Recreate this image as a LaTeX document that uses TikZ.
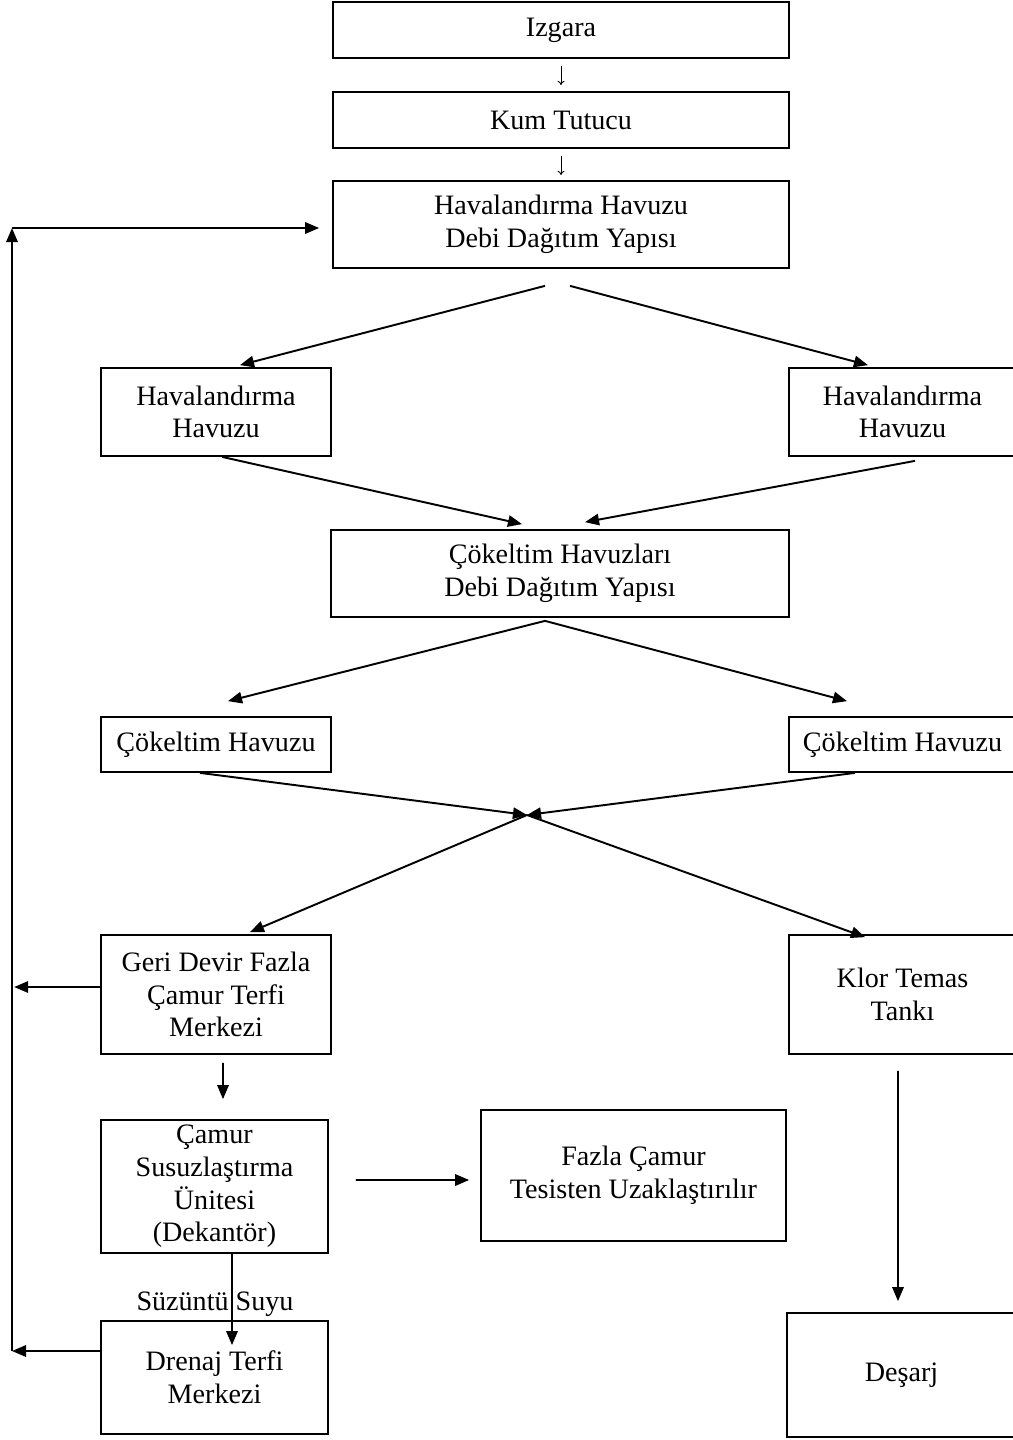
\documentclass[tikz,border=0pt]{standalone}
\usepackage{fontspec, tikz, xcolor}
\setmainfont{Liberation Serif}
\usetikzlibrary{arrows.meta, calc}

\begin{document}
\begin{tikzpicture}[x=0.02cm, y=-0.02cm,
    every node/.style={font=\fontsize{16}{18.6}\selectfont},
    box/.style={draw, line width=1pt, align=center, inner sep=0pt},
    arr/.style={-{Triangle[length=8pt, width=6.5pt]}, line width=1.1pt},
    smallarr/.style={-{To[length=2.5pt, width=4pt]}, line width=0.5pt}]
    \useasboundingbox (0,0) rectangle (1013,1440);
    \node [box, minimum width=9.12cm, minimum height=1.12cm] (izgara) at (561,30) {Izgara};
    \node [box, minimum width=9.12cm, minimum height=1.12cm] (kum) at (561,120) {Kum Tutucu};
    \node [box, minimum width=9.12cm, minimum height=1.74cm] (hhdebi) at (561,224.5) {Havalandırma Havuzu\\Debi Dağıtım Yapısı};
    \node [box, minimum width=4.6cm, minimum height=1.76cm] (hhleft) at (216,412) {Havalandırma\\Havuzu};
    \node [box, minimum width=4.54cm, minimum height=1.76cm] (hhright) at (902.5,412) {Havalandırma\\Havuzu};
    \node [box, minimum width=9.16cm, minimum height=1.74cm] (cdebi) at (560,573.5) {Çökeltim Havuzları\\Debi Dağıtım Yapısı};
    \node [box, minimum width=4.6cm, minimum height=1.1cm] (cleft) at (216,744.5) {Çökeltim Havuzu};
    \node [box, minimum width=4.54cm, minimum height=1.1cm] (cright) at (902.5,744.5) {Çökeltim Havuzu};
    \node [box, minimum width=4.6cm, minimum height=2.38cm] (geri) at (216,994.5) {Geri Devir Fazla\\Çamur Terfi\\Merkezi};
    \node [box, minimum width=4.54cm, minimum height=2.38cm] (klor) at (902.5,994.5) {Klor Temas\\Tankı};
    \node [box, minimum width=4.54cm, minimum height=2.66cm] (camur) at (214.5,1186.5) {Çamur\\Susuzlaştırma\\Ünitesi\\(Dekantör)};
    \node [box, minimum width=6.1cm, minimum height=2.62cm] (fazla) at (633.5,1175.5) {Fazla Çamur\\Tesisten Uzaklaştırılır};
    \node [box, minimum width=4.54cm, minimum height=2.26cm] (drenaj) at (214.5,1377.5) {Drenaj Terfi\\Merkezi};
    \node [box, minimum width=4.58cm, minimum height=2.48cm] (desarj) at (901.5,1375) {Deşarj};
    \coordinate (cross) at (527,815);
    \coordinate (lt) at (12,228);
    \coordinate (lb) at (12,1351);
    % main line
    \draw [smallarr] ([yshift=-0.14cm]izgara.south) -- ([yshift=0.12cm]kum.north);
    \draw [smallarr] ([yshift=-0.14cm]kum.south) -- ([yshift=0.1cm]hhdebi.north);
    \draw [arr] ([xshift=-0.32cm, yshift=-0.34cm]hhdebi.south) -- ([xshift=0.48cm, yshift=0.04cm]hhleft.north);
    \draw [arr] ([xshift=0.18cm, yshift=-0.34cm]hhdebi.south) -- ([xshift=-0.69cm, yshift=0.04cm]hhright.north);
    \draw [arr] ([xshift=0.12cm]hhleft.south) -- ([xshift=-0.76cm, yshift=0.1cm]cdebi.north);
    \draw [arr] ([xshift=0.25cm, yshift=-0.08cm]hhright.south) -- ([xshift=0.5cm, yshift=0.14cm]cdebi.north);
    \draw [arr] ([xshift=-0.3cm, yshift=-0.06cm]cdebi.south) -- ([xshift=0.24cm, yshift=0.3cm]cleft.north);
    \draw [arr] ([xshift=-0.3cm, yshift=-0.06cm]cdebi.south) -- ([xshift=-1.11cm, yshift=0.3cm]cright.north);
    \draw [arr] ([xshift=-0.32cm]cleft.south) -- (cross);
    \draw [arr] ([xshift=-0.95cm]cright.south) -- (cross);
    \draw [arr] (cross) -- ([xshift=0.68cm, yshift=0.04cm]geri.north);
    \draw [arr] (cross) -- ([xshift=-0.75cm, yshift=-0.06cm]klor.north);
    \draw [arr] ([xshift=0.14cm, yshift=-0.16cm]geri.south) -- ([xshift=0.17cm, yshift=0.4cm]camur.north);
    \draw [arr] ([xshift=0.54cm, yshift=0.13cm]camur.east) -- ([xshift=-0.22cm, yshift=-0.09cm]fazla.west);
    \draw [arr] ([xshift=-0.09cm, yshift=-0.32cm]klor.south) -- ([xshift=-0.07cm, yshift=0.22cm]desarj.north);
    \draw [arr] ([xshift=0.35cm]camur.south) -- ([xshift=0.35cm, yshift=-0.5cm]drenaj.north);
    \node (suzuntu) at (215,1304) {Süzüntü Suyu};
    % return line
    \draw [arr] (lb) -- (lt);
    \draw [arr] (lt) -- ([xshift=-0.26cm, yshift=-0.07cm]hhdebi.west);
    \draw [arr] ([yshift=0.15cm]geri.west) -- ++(-1.72cm,0);
    \draw [arr] ([yshift=0.53cm]drenaj.west) -- (lb);
\end{tikzpicture}
\end{document}
